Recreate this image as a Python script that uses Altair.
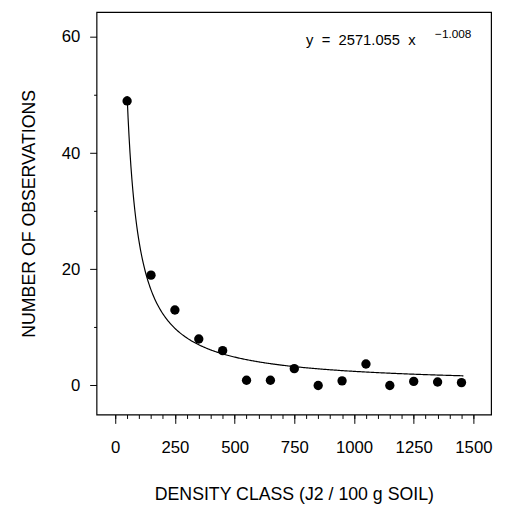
import altair as alt
import pandas as pd

# Data
density_class = [50, 150, 250, 350, 450, 550, 650, 750, 850, 950, 1050, 1150, 1250, 1350, 1450]
observations = [49, 19, 13, 8, 6, 0.9, 0.9, 2.9, 0, 0.8, 3.7, 0, 0.7, 0.6, 0.5]

# Fitted power curve printed on the chart: y = 2571.055 x^-1.008
fit_a = 2571.055
fit_b = -1.008
fit_start = 50
fit_end = 1462

x_major = [0, 250, 500, 750, 1000, 1250, 1500]
x_minor = list(range(0, 1501, 50))
y_major = [0, 20, 40, 60]
y_minor = [10, 30, 50]

pts = pd.DataFrame({"x": density_class, "y": observations})

FONT = "Liberation Sans"
xs = alt.Scale(domain=[-78, 1574], nice=False, zero=False)
ys = alt.Scale(domain=[-5, 64.3], nice=False, zero=False)

points = alt.Chart(pts).mark_point(filled=True, color="black", size=90, opacity=1).encode(
    x=alt.X("x:Q", scale=xs, title="DENSITY CLASS (J2 / 100 g SOIL)",
            axis=alt.Axis(values=x_major, orient="bottom", tickSize=9, domain=False, grid=False,
                          labelFontSize=17, labelPadding=17, titleFontSize=18,
                          titlePadding=30, titleFontWeight="normal", labelFont=FONT,
                          titleFont=FONT, tickColor="black", labelColor="black",
                          titleColor="black", format="d")),
    y=alt.Y("y:Q", scale=ys, title="NUMBER OF OBSERVATIONS",
            axis=alt.Axis(values=y_major, orient="left", tickSize=7, domain=False, grid=False,
                          labelFontSize=17, labelPadding=10, titleFontSize=18,
                          titlePadding=23, titleFontWeight="normal", labelFont=FONT,
                          titleFont=FONT, tickColor="black", labelColor="black",
                          titleColor="black", format="d")),
)

curve = alt.Chart(alt.sequence(fit_start, fit_end, 4, as_="x")).transform_calculate(
    y=f"{fit_a} * pow(datum.x, {fit_b})"
).mark_line(color="black", strokeWidth=1.2).encode(
    x=alt.X("x:Q", scale=xs, axis=alt.Axis(values=x_minor, orient="bottom", tickSize=4,
                                           labels=False, domain=False, grid=False,
                                           title=None, tickColor="black")),
    y=alt.Y("y:Q", scale=ys, axis=alt.Axis(values=y_minor, orient="left", tickSize=3,
                                           labels=False, domain=False, grid=False,
                                           title=None, tickColor="black")),
)

NB = "\u00a0"
eq_main = alt.Chart(pd.DataFrame({"t": [f"y{NB}{NB}={NB}{NB}2571.055{NB}{NB}x"]})).mark_text(
    align="left", baseline="alphabetic", fontSize=15, font=FONT, color="black"
).encode(text="t:N", x=alt.value(213), y=alt.value(33))

eq_sup = alt.Chart(pd.DataFrame({"t": ["\u22121.008"]})).mark_text(
    align="left", baseline="alphabetic", fontSize=12, font=FONT, color="black"
).encode(text="t:N", x=alt.value(344), y=alt.value(26))

chart = alt.layer(points, curve, eq_main, eq_sup).resolve_axis(
    x="independent", y="independent"
).properties(
    width=401, height=409,
    background="white",
    autosize=alt.AutoSizeParams(type="none"),
    padding={"left": 90, "top": 0, "right": 6, "bottom": 100},
).configure_view(stroke="black", strokeWidth=1.2)

chart.save("out.html", embed_options={"renderer": "svg", "actions": False})
